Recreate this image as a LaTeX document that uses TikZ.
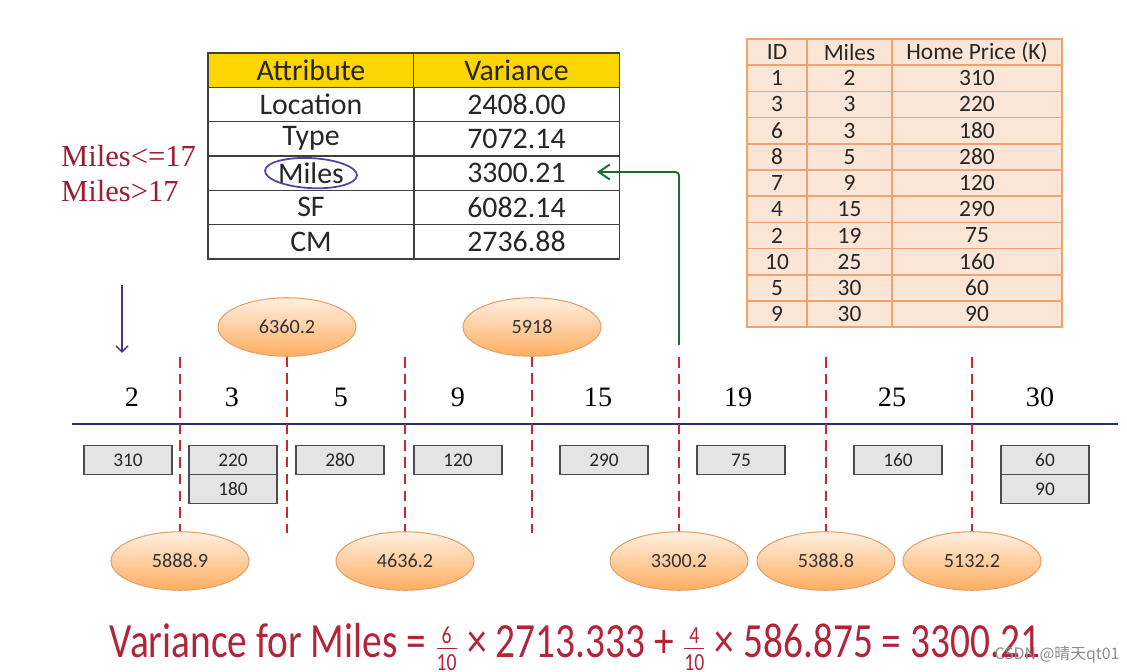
\documentclass[tikz,border=0pt]{standalone}
\usepackage{amsmath}
\usepackage{fontspec}
\setmainfont{Carlito}
\newfontfamily\timesfont{Liberation Serif}
\newfontfamily\cjkfont{Noto Sans CJK SC}
\usetikzlibrary{arrows.meta,positioning,shapes.geometric}
\definecolor{cutred}{HTML}{C42B33}
\definecolor{labred}{HTML}{9E1B32}
\definecolor{eqred}{HTML}{B3243B}
\definecolor{axisblue}{HTML}{27306A}
\definecolor{arrgreen}{HTML}{1C6A2C}
\definecolor{penpurple}{HTML}{5A3FA3}
\definecolor{hdryellow}{HTML}{FFD500}
\definecolor{peach}{HTML}{FBE5D6}
\definecolor{peachline}{HTML}{F0A36E}
\definecolor{boxgray}{HTML}{E4E4E4}
\newcommand{\fs}[1]{\fontsize{#1}{1.2\dimexpr #1pt\relax}\selectfont}
\newcommand{\fr}[2]{$\genfrac{}{}{}{2}{\text{#1}}{\text{#2}}$}

\begin{document}
\begin{tikzpicture}[x=0.02cm, y=-0.02cm,
  acell/.style={draw=black!75, line width=0.8pt, minimum width=4.12cm,
                minimum height=0.686cm, inner sep=0pt, font=\fs{17}, text=black!85},
  pcell/.style={draw=peachline, fill=peach, line width=0.8pt,
                minimum height=0.524cm, inner sep=0pt, font=\fs{13.3}, text=black!85},
  valbox/.style={draw=black!70, fill=boxgray, line width=0.8pt,
                 minimum width=1.76cm, minimum height=0.58cm, inner sep=0pt,
                 font=\fs{11}, text=black!85},
  varell/.style={ellipse, draw=peachline!85!brown, line width=0.6pt,
                 top color=orange!12, bottom color=orange!55!peach,
                 minimum width=2.76cm, minimum height=1.17cm, inner sep=0pt,
                 font=\fs{11.5}, text=black!80},
  num/.style={font=\timesfont\fs{16}},
  cut/.style={cutred, line width=1.1pt, dash pattern=on 6pt off 3.5pt},
  ar/.style={-{Straight Barb[length=2.2mm,width=3mm]}, line width=1.1pt}]
\useasboundingbox (0,0) rectangle (1127,672);

% attribute / variance table
\node[acell, fill=hdryellow] (a0) at (311,70.2) {Attribute};
\node[acell, fill=hdryellow] (v0) at (516.5,70.2) {Variance};
\foreach \a/\v [count=\i] in {Location/2408.00, Type/7072.14, Miles/3300.21,
                              SF/6082.14, CM/2736.88} {
  \node[acell] (a\i) at (311,70.2+34.3*\i) {\a};
  \node[acell] (v\i) at (516.5,70.2+34.3*\i) {\v};
}
\draw[penpurple, line width=1pt, rotate around={-3:(a3.center)}]
  (a3.center) ellipse [x radius=46, y radius=15];

% data table
\foreach \id/\mi/\pr [count=\i from 0] in {ID/Miles/Home Price (K), 1/2/310,
    3/3/220, 6/3/180, 8/5/280, 7/9/120, 4/15/290, 2/19/75, 10/25/160,
    5/30/60, 9/30/90} {
  \node[pcell, minimum width=1.2cm] (id\i) at (777,52.1+26.2*\i) {\id};
  \node[pcell, minimum width=1.7cm] (mi\i) at (849.5,52.1+26.2*\i) {\mi};
  \node[pcell, minimum width=3.4cm] (pr\i) at (977,52.1+26.2*\i) {\pr};
}

% split rule
\node[labred, anchor=west, font=\timesfont\fs{17.4}] (le) at (55,156) {Miles<=17};
\node[labred, anchor=west, font=\timesfont\fs{17.4}] (gt) at (55,191) {Miles>17};
\coordinate (pa) at (122,285);
\coordinate (pb) at (122,353);
\draw[penpurple!80!black, line width=0.9pt, -{Straight Barb[length=1.2mm]}] (pa) -- (pb);

% axis
\coordinate (axl) at (72,424);
\coordinate (axr) at (1118,424);
\draw[axisblue, line width=1.2pt] (axl) -- (axr);
\foreach \m/\x in {2/132, 3/232, 5/341, 9/458, 15/598, 19/738, 25/892, 30/1040}
  \node[num] (m\m) at (\x,397) {\m};

% prices below the axis
\node[valbox] (p2) at (128,460) {310};
\node[valbox] (p3a) at (233,460) {220};
\node[valbox] (p3b) at (233,489) {180};
\node[valbox] (p5) at (340,460) {280};
\node[valbox] (p9) at (458,460) {120};
\node[valbox] (p15) at (604,460) {290};
\node[valbox] (p19) at (741,460) {75};
\node[valbox] (p25) at (898,460) {160};
\node[valbox] (p30a) at (1045,460) {60};
\node[valbox] (p30b) at (1045,489) {90};

% candidate splits, variance above
\node[varell] (u1) at (287,327) {6360.2};
\node[varell] (u2) at (532,327) {5918};
\coordinate (ub1) at (287,533);
\coordinate (ub2) at (532,533);
\draw[cut] (u1.south) -- (ub1);
\draw[cut] (u2.south) -- (ub2);

% candidate splits, variance below
\foreach \x/\val [count=\i] in {180/5888.9, 405/4636.2, 679/3300.2,
                                826/5388.8, 972/5132.2} {
  \node[varell] (e\i) at (\x,561) {\val};
  \coordinate (t\i) at (\x,357);
  \draw[cut] (t\i) -- (e\i.north);
}

% best split back to the table
\coordinate (g0) at (679,345);
\coordinate (g1) at (597,172);
\draw[ar, arrgreen, rounded corners=2pt] (g0) |- (g1);

% weighted variance
\node[eqred] (eq) at (575,647)
  {\scalebox{0.8}[1]{\fs{28}Variance for Miles = \fr{6}{10} × 2713.333 + \fr{4}{10} × 586.875 = 3300.21}};
\node[black!45, font=\cjkfont\fs{9}] (wm) at (1057,655) {CSDN @晴天qt01};
\end{tikzpicture}
\end{document}
